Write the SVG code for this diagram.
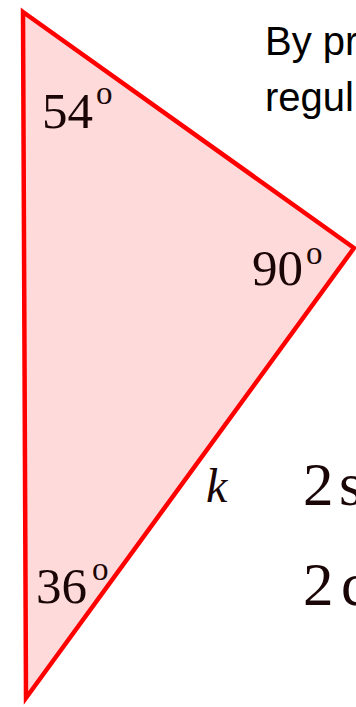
<svg xmlns="http://www.w3.org/2000/svg" width="356" height="707" viewBox="0 0 356 707">
<style>
.ser{font-family:"Liberation Serif","Times New Roman",serif;fill:#1a0606}
.big{font-size:51px}
.deg{font-size:33px}
.san{font-family:"Liberation Sans",Arial,sans-serif;font-size:40px;fill:#000}
.eq{font-size:61px}
</style>
<rect width="356" height="707" fill="#fff"/>
<g id="triangle">
<polygon points="23,12 354,248 26,698" fill="#FFDADA" stroke="#FF0000" stroke-width="4.5" stroke-linejoin="miter"/>
</g>
<g id="angle-54">
<text class="ser big" x="42" y="128">54</text>
<text class="ser deg" x="96" y="104">o</text>
</g>
<g id="angle-90">
<text class="ser big" x="252" y="285">90</text>
<text class="ser deg" x="306" y="264">o</text>
</g>
<g id="angle-36">
<text class="ser big" x="36" y="603">36</text>
<text class="ser deg" x="92" y="580">o</text>
</g>
<g id="side-k">
<text class="ser" x="206" y="502" font-size="48" font-style="italic">k</text>
</g>
<g id="text">
<text class="san" x="265" y="55">By pr</text>
<text class="san" x="265" y="111">regul</text>
<text class="ser eq" x="303" y="505">2<tspan x="339">s</tspan></text>
<text class="ser eq" x="303" y="605">2<tspan x="341">c</tspan></text>
</g>
</svg>
